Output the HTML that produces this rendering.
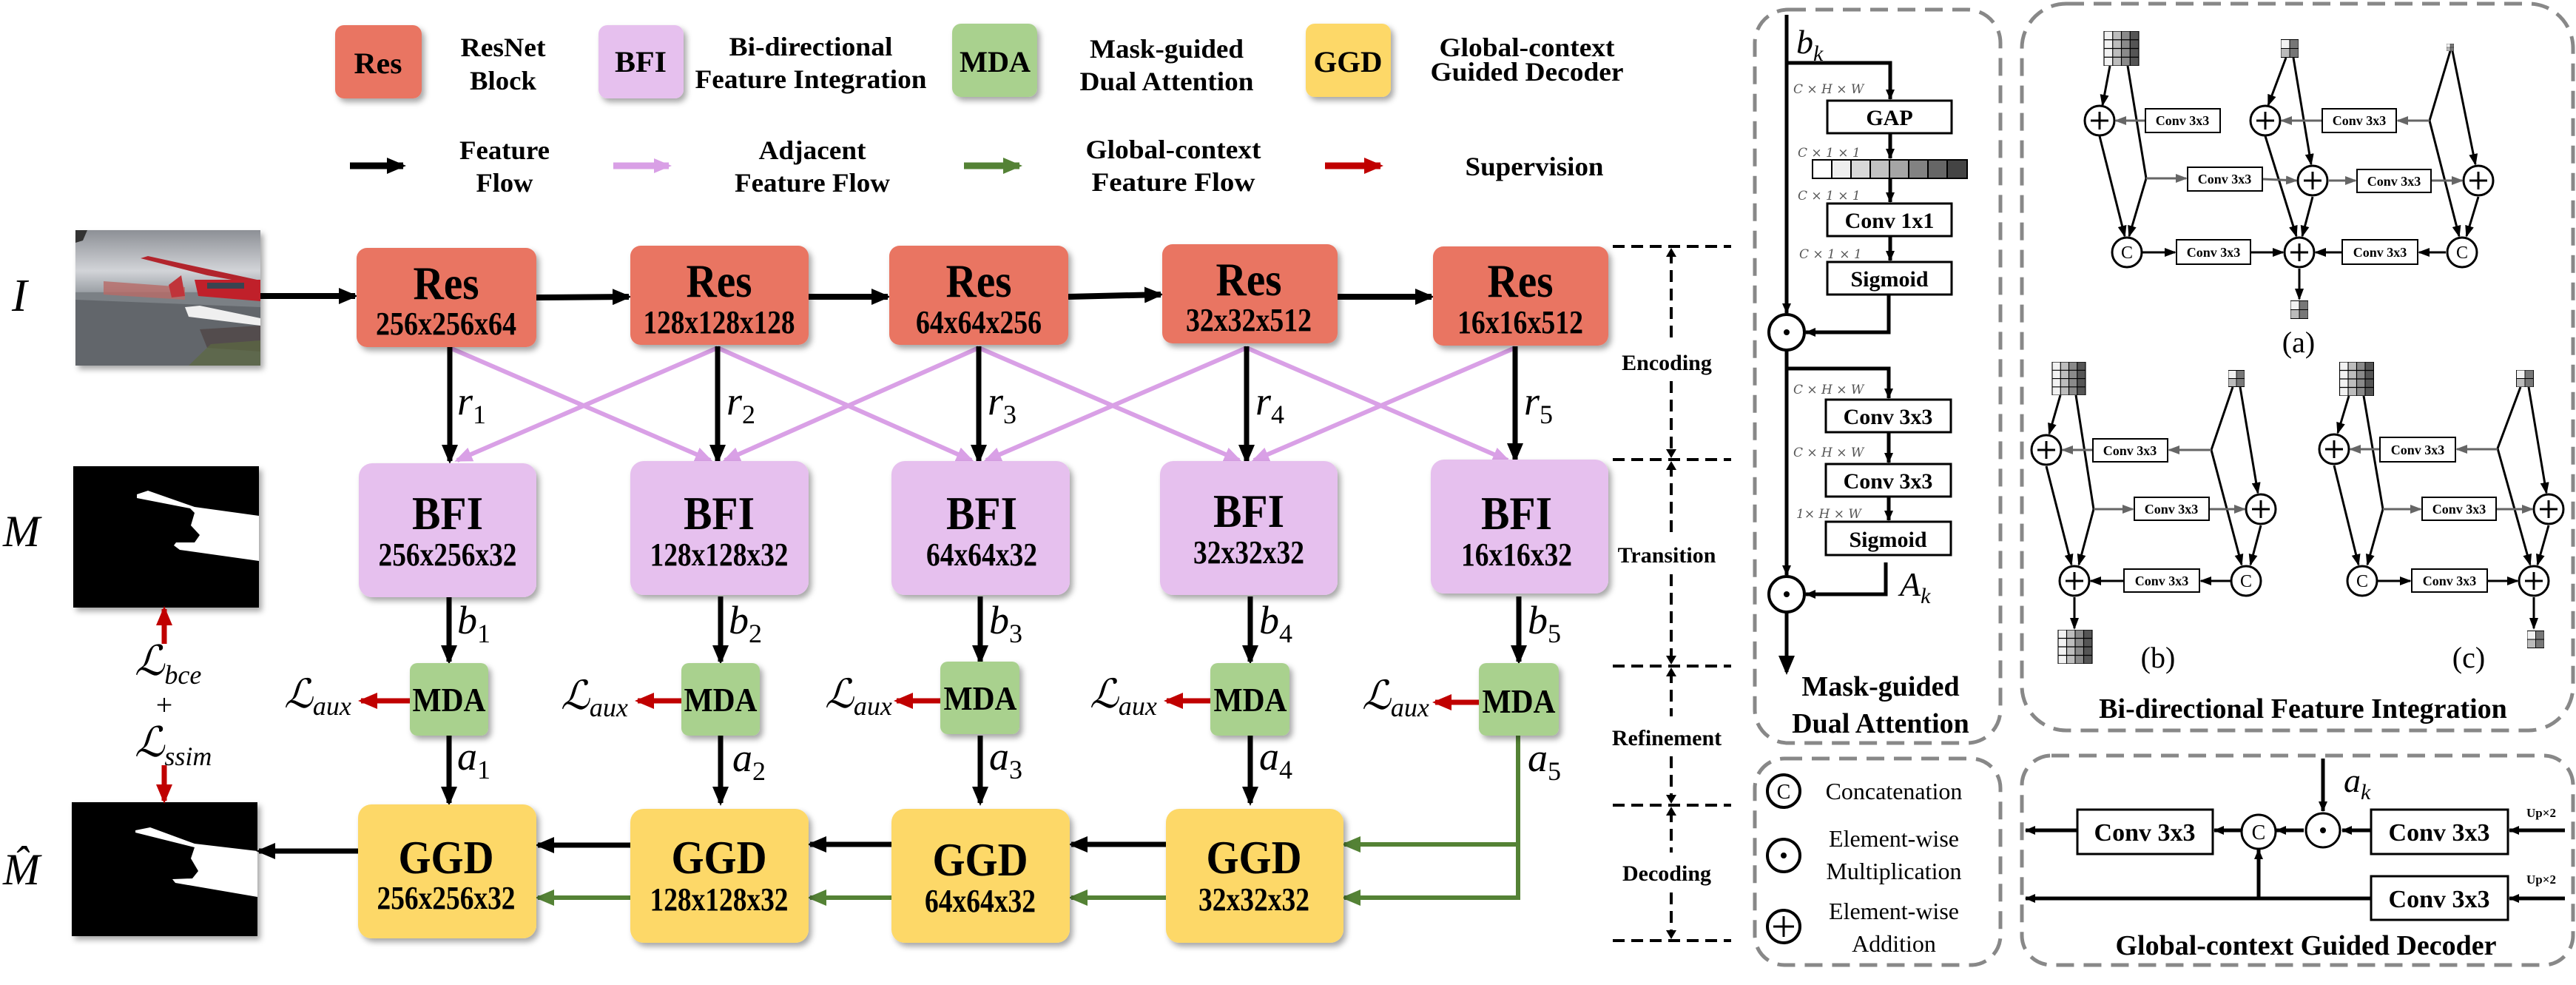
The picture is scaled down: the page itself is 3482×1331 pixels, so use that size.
<!DOCTYPE html>
<html><head><meta charset="utf-8"><style>
html,body{margin:0;padding:0;background:#fff;}
svg{display:block;}
.t{font-family:"Liberation Serif",serif;font-weight:bold;fill:#000;}
.r{font-family:"Liberation Serif",serif;fill:#000;}
.m{font-family:"Liberation Serif","DejaVu Serif",serif;font-style:italic;fill:#000;}
.sc{font-family:"DejaVu Serif","Liberation Serif",serif;fill:#000;}
</style></head><body>
<svg width="3482" height="1331" viewBox="0 0 3482 1331" xmlns="http://www.w3.org/2000/svg">
<defs>
<marker id="ab" markerUnits="userSpaceOnUse" markerWidth="26" markerHeight="22" refX="22" refY="11" orient="auto"><path d="M0,0 L26,11 L0,22 z" fill="#000"/></marker>
<marker id="ap" markerUnits="userSpaceOnUse" markerWidth="24" markerHeight="20" refX="20" refY="10" orient="auto"><path d="M0,0 L24,10 L0,20 z" fill="#d9a0e6"/></marker>
<marker id="ag" markerUnits="userSpaceOnUse" markerWidth="26" markerHeight="22" refX="22" refY="11" orient="auto"><path d="M0,0 L26,11 L0,22 z" fill="#548235"/></marker>
<marker id="ar" markerUnits="userSpaceOnUse" markerWidth="26" markerHeight="22" refX="22" refY="11" orient="auto"><path d="M0,0 L26,11 L0,22 z" fill="#c00000"/></marker>
<marker id="as" markerUnits="userSpaceOnUse" markerWidth="16" markerHeight="12" refX="14" refY="6" orient="auto"><path d="M0,0 L16,6 L0,12 z" fill="#000"/></marker>
<marker id="ay" markerUnits="userSpaceOnUse" markerWidth="16" markerHeight="12" refX="14" refY="6" orient="auto"><path d="M0,0 L16,6 L0,12 z" fill="#666"/></marker>
<marker id="ad" markerUnits="userSpaceOnUse" markerWidth="14" markerHeight="12" refX="13" refY="6" orient="auto"><path d="M0,0 L14,6 L0,12 z" fill="#000"/></marker>
<filter id="sh" x="-10%" y="-10%" width="130%" height="130%"><feDropShadow dx="4" dy="5" stdDeviation="4" flood-color="#000" flood-opacity="0.35"/></filter>
<linearGradient id="sky" x1="0" y1="0" x2="0" y2="1"><stop offset="0" stop-color="#8d9096"/><stop offset="0.3" stop-color="#d2d4d8"/><stop offset="0.45" stop-color="#9ea3a8"/><stop offset="0.5" stop-color="#6e7276"/><stop offset="1" stop-color="#5d6064"/></linearGradient>
<symbol id="g4" viewBox="0 0 4 4"><rect x="0" y="0" width="1" height="4" fill="#f2f2f2"/><rect x="1" y="0" width="1" height="4" fill="#bdbdbd"/><rect x="2" y="0" width="1" height="4" fill="#8a8a8a"/><rect x="3" y="0" width="1" height="4" fill="#555"/><path d="M0,0H4V4H0z M1,0V4 M2,0V4 M3,0V4 M0,1H4 M0,2H4 M0,3H4" fill="none" stroke="#000" stroke-width="0.1"/></symbol>
<symbol id="g2" viewBox="0 0 2 2"><rect x="0" y="0" width="1" height="1" fill="#f2f2f2"/><rect x="1" y="0" width="1" height="2" fill="#777"/><rect x="0" y="1" width="1" height="1" fill="#bbb"/><path d="M0,0H2V2H0z M1,0V2 M0,1H2" fill="none" stroke="#000" stroke-width="0.08"/></symbol>
</defs>

<!-- ===== Legend ===== -->
<g filter="url(#sh)">
<rect x="453" y="34" width="117" height="99" rx="12" fill="#e97562"/>
<rect x="809" y="34" width="115" height="99" rx="12" fill="#e6c0ee"/>
<rect x="1287" y="32" width="115" height="99" rx="12" fill="#a9d18e"/>
<rect x="1765" y="32" width="115" height="99" rx="12" fill="#fdd868"/>
</g>
<text class="t" x="511" y="99" font-size="40" text-anchor="middle" textLength="65" lengthAdjust="spacingAndGlyphs">Res</text>
<text class="t" x="866" y="97" font-size="40" text-anchor="middle" textLength="70" lengthAdjust="spacingAndGlyphs">BFI</text>
<text class="t" x="1345" y="97" font-size="40" text-anchor="middle" textLength="96" lengthAdjust="spacingAndGlyphs">MDA</text>
<text class="t" x="1822" y="97" font-size="40" text-anchor="middle" textLength="93" lengthAdjust="spacingAndGlyphs">GGD</text>
<g class="t" font-size="36" text-anchor="middle">
<text x="680" y="76" textLength="115" lengthAdjust="spacingAndGlyphs">ResNet</text>
<text x="680" y="121" textLength="90" lengthAdjust="spacingAndGlyphs">Block</text>
<text x="1096" y="75" textLength="221" lengthAdjust="spacingAndGlyphs">Bi-directional</text>
<text x="1096" y="119" textLength="313" lengthAdjust="spacingAndGlyphs">Feature Integration</text>
<text x="1577" y="78" textLength="208" lengthAdjust="spacingAndGlyphs">Mask-guided</text>
<text x="1577" y="122" textLength="235" lengthAdjust="spacingAndGlyphs">Dual Attention</text>
<text x="2064" y="76" textLength="237" lengthAdjust="spacingAndGlyphs">Global-context</text>
<text x="2064" y="109" textLength="261" lengthAdjust="spacingAndGlyphs">Guided Decoder</text>
<text x="682" y="215" textLength="122" lengthAdjust="spacingAndGlyphs">Feature</text>
<text x="682" y="259" textLength="77" lengthAdjust="spacingAndGlyphs">Flow</text>
<text x="1098" y="215" textLength="145" lengthAdjust="spacingAndGlyphs">Adjacent</text>
<text x="1098" y="259" textLength="210" lengthAdjust="spacingAndGlyphs">Feature Flow</text>
<text x="1586" y="214" textLength="237" lengthAdjust="spacingAndGlyphs">Global-context</text>
<text x="1586" y="258" textLength="221" lengthAdjust="spacingAndGlyphs">Feature  Flow</text>
<text x="2074" y="237" textLength="187" lengthAdjust="spacingAndGlyphs">Supervision</text>
</g>
<line x1="473" y1="224" x2="545" y2="224" stroke="#000" stroke-width="9" marker-end="url(#ab)"/>
<line x1="829" y1="224" x2="904" y2="224" stroke="#d9a0e6" stroke-width="9" marker-end="url(#ap)"/>
<line x1="1303" y1="224" x2="1378" y2="224" stroke="#548235" stroke-width="9" marker-end="url(#ag)"/>
<line x1="1791" y1="224" x2="1866" y2="224" stroke="#c00000" stroke-width="9" marker-end="url(#ar)"/>

<!-- ===== Images ===== -->
<g filter="url(#sh)">
<rect x="102" y="311" width="250" height="183" fill="url(#sky)"/>
<rect x="99" y="630" width="251" height="191" fill="#000"/>
<rect x="97" y="1084" width="251" height="181" fill="#000"/>
</g>
<!-- photo details -->
<rect x="102" y="395" width="250" height="99" fill="#62666b"/>
<path d="M102,395 L352,395 L352,415 L102,405 Z" fill="#7b8085"/>
<path d="M140,380 L250,388 L250,405 L140,398 Z" fill="#b86a66" opacity="0.8"/>
<path d="M228,385 L245,372 L250,400 L232,402 Z" fill="#c0343a"/>
<path d="M190,349 L200,346 L352,379 L352,385 L280,372 Z" fill="#b2242c"/>
<path d="M263,378 L352,378 L352,407 L268,400 Z" fill="#c0202a"/>
<path d="M280,382 L330,382 L330,390 L280,390 Z" fill="#3a4450"/>
<path d="M250,415 L270,413 L352,430 L352,440 L255,428 Z" fill="#efefef"/>
<path d="M270,445 L352,440 L352,475 L280,470 Z" fill="#4a3a38" opacity="0.6"/>
<path d="M255,494 L285,465 L352,460 L352,494 Z" fill="#5c6a40" opacity="0.7"/>
<path d="M102,311 L118,311 L112,325 L102,328 Z" fill="#333"/>
<!-- masks -->
<path d="M185,668 L200,663 L263,685 L350,697 L350,758 L243,743 L235,737 L238,733 L263,733 L270,723 L258,710 L263,693 L257,687 L185,673 Z" fill="#fff"/>
<path d="M183,1122 L203,1118 L263,1140 L348,1150 L348,1212 L237,1193 L233,1188 L260,1187 L268,1177 L258,1160 L263,1145 L183,1125 Z" fill="#fff"/>
<text class="m" x="16" y="420" font-size="62" font-weight="normal">I</text>
<text class="m" x="4" y="738" font-size="60">M</text>
<text class="m" x="4" y="1195" font-size="60">M̂</text>

<!-- supervision -->
<line x1="222" y1="870" x2="222" y2="823" stroke="#c00000" stroke-width="7" marker-end="url(#ar)"/>
<line x1="222" y1="1034" x2="222" y2="1082" stroke="#c00000" stroke-width="7" marker-end="url(#ar)"/>
<text class="m" x="182" y="912" font-size="56" font-style="normal">ℒ<tspan font-size="36" font-style="italic" dy="12">bce</tspan></text>
<text class="r" x="222" y="966" font-size="40" text-anchor="middle">+</text>
<text class="m" x="182" y="1022" font-size="56" font-style="normal">ℒ<tspan font-size="36" font-style="italic" dy="12">ssim</tspan></text>

<!-- ===== main flow arrows ===== -->
<g stroke="#000" stroke-width="8" fill="none">
<line x1="352" y1="400" x2="480" y2="400" marker-end="url(#ab)"/>
<line x1="725" y1="402" x2="850" y2="401" marker-end="url(#ab)"/>
<line x1="1093" y1="401" x2="1200" y2="401" marker-end="url(#ab)"/>
<line x1="1444" y1="401" x2="1569" y2="398" marker-end="url(#ab)"/>
<line x1="1808" y1="401" x2="1935" y2="401" marker-end="url(#ab)"/>
</g>
<g stroke="#d9a0e6" stroke-width="6" fill="none">
<line x1="608" y1="470" x2="960" y2="622" marker-end="url(#ap)"/>
<line x1="970" y1="470" x2="618" y2="622" marker-end="url(#ap)"/>
<line x1="970" y1="470" x2="1313" y2="622" marker-end="url(#ap)"/>
<line x1="1323" y1="470" x2="980" y2="622" marker-end="url(#ap)"/>
<line x1="1323" y1="470" x2="1675" y2="622" marker-end="url(#ap)"/>
<line x1="1685" y1="470" x2="1333" y2="622" marker-end="url(#ap)"/>
<line x1="1685" y1="470" x2="2038" y2="622" marker-end="url(#ap)"/>
<line x1="2048" y1="470" x2="1695" y2="622" marker-end="url(#ap)"/>
</g>
<g stroke="#000" stroke-width="7" fill="none">
<line x1="608" y1="468" x2="608" y2="623" marker-end="url(#ab)"/>
<line x1="970" y1="468" x2="970" y2="623" marker-end="url(#ab)"/>
<line x1="1323" y1="468" x2="1323" y2="623" marker-end="url(#ab)"/>
<line x1="1685" y1="468" x2="1685" y2="623" marker-end="url(#ab)"/>
<line x1="2048" y1="468" x2="2048" y2="621" marker-end="url(#ab)"/>
<line x1="607" y1="806" x2="607" y2="894" marker-end="url(#ab)"/>
<line x1="974" y1="806" x2="974" y2="894" marker-end="url(#ab)"/>
<line x1="1325" y1="806" x2="1325" y2="894" marker-end="url(#ab)"/>
<line x1="1690" y1="806" x2="1690" y2="894" marker-end="url(#ab)"/>
<line x1="2053" y1="806" x2="2053" y2="894" marker-end="url(#ab)"/>
<line x1="607" y1="994" x2="607" y2="1085" marker-end="url(#ab)"/>
<line x1="974" y1="994" x2="974" y2="1085" marker-end="url(#ab)"/>
<line x1="1325" y1="994" x2="1325" y2="1085" marker-end="url(#ab)"/>
<line x1="1690" y1="994" x2="1690" y2="1085" marker-end="url(#ab)"/>
<line x1="852" y1="1142" x2="727" y2="1142" marker-end="url(#ab)"/>
<line x1="1205" y1="1141" x2="1095" y2="1141" marker-end="url(#ab)"/>
<line x1="1576" y1="1141" x2="1448" y2="1141" marker-end="url(#ab)"/>
<line x1="484" y1="1150" x2="350" y2="1150" marker-end="url(#ab)"/>
</g>
<g stroke="#548235" stroke-width="6" fill="none">
<line x1="852" y1="1213" x2="727" y2="1213" marker-end="url(#ag)"/>
<line x1="1205" y1="1213" x2="1095" y2="1213" marker-end="url(#ag)"/>
<line x1="1576" y1="1213" x2="1448" y2="1213" marker-end="url(#ag)"/>
<polyline points="2052,994 2052,1213 1817,1213" marker-end="url(#ag)"/>
<polyline points="2052,1141 1817,1141" marker-end="url(#ag)"/>
</g>
<g stroke="#c00000" stroke-width="7">
<line x1="554" y1="947" x2="488" y2="947" marker-end="url(#ar)"/>
<line x1="921" y1="947" x2="862" y2="947" marker-end="url(#ar)"/>
<line x1="1271" y1="947" x2="1212" y2="947" marker-end="url(#ar)"/>
<line x1="1636" y1="947" x2="1577" y2="947" marker-end="url(#ar)"/>
<line x1="1999" y1="949" x2="1940" y2="949" marker-end="url(#ar)"/>
</g>

<!-- ===== boxes ===== -->
<g filter="url(#sh)">
<rect x="482" y="335" width="243" height="134" rx="14" fill="#e97562"/>
<rect x="852" y="332" width="241" height="134" rx="14" fill="#e97562"/>
<rect x="1202" y="332" width="242" height="134" rx="14" fill="#e97562"/>
<rect x="1571" y="330" width="237" height="134" rx="14" fill="#e97562"/>
<rect x="1937" y="333" width="237" height="134" rx="14" fill="#e97562"/>
<rect x="485" y="626" width="240" height="181" rx="18" fill="#e6c0ee"/>
<rect x="852" y="623" width="241" height="181" rx="18" fill="#e6c0ee"/>
<rect x="1205" y="623" width="241" height="181" rx="18" fill="#e6c0ee"/>
<rect x="1568" y="623" width="240" height="181" rx="18" fill="#e6c0ee"/>
<rect x="1934" y="621" width="240" height="181" rx="18" fill="#e6c0ee"/>
<rect x="554" y="896" width="106" height="98" rx="10" fill="#a9d18e"/>
<rect x="921" y="896" width="106" height="98" rx="10" fill="#a9d18e"/>
<rect x="1271" y="894" width="107" height="98" rx="10" fill="#a9d18e"/>
<rect x="1636" y="896" width="107" height="98" rx="10" fill="#a9d18e"/>
<rect x="1999" y="896" width="108" height="98" rx="10" fill="#a9d18e"/>
<rect x="484" y="1087" width="241" height="181" rx="18" fill="#fdd868"/>
<rect x="852" y="1093" width="241" height="181" rx="18" fill="#fdd868"/>
<rect x="1205" y="1093" width="241" height="181" rx="18" fill="#fdd868"/>
<rect x="1576" y="1093" width="240" height="181" rx="18" fill="#fdd868"/>
</g>
<g class="t" text-anchor="middle">
<g font-size="64">
<text x="603" y="404" textLength="89" lengthAdjust="spacingAndGlyphs">Res</text>
<text x="972" y="401" textLength="89" lengthAdjust="spacingAndGlyphs">Res</text>
<text x="1323" y="401" textLength="89" lengthAdjust="spacingAndGlyphs">Res</text>
<text x="1688" y="399" textLength="89" lengthAdjust="spacingAndGlyphs">Res</text>
<text x="2055" y="401" textLength="89" lengthAdjust="spacingAndGlyphs">Res</text>
<text x="605" y="715" textLength="96" lengthAdjust="spacingAndGlyphs">BFI</text>
<text x="972" y="715" textLength="96" lengthAdjust="spacingAndGlyphs">BFI</text>
<text x="1327" y="715" textLength="96" lengthAdjust="spacingAndGlyphs">BFI</text>
<text x="1688" y="712" textLength="96" lengthAdjust="spacingAndGlyphs">BFI</text>
<text x="2050" y="715" textLength="96" lengthAdjust="spacingAndGlyphs">BFI</text>
<text x="603" y="1180" textLength="129" lengthAdjust="spacingAndGlyphs">GGD</text>
<text x="972" y="1180" textLength="129" lengthAdjust="spacingAndGlyphs">GGD</text>
<text x="1325" y="1183" textLength="129" lengthAdjust="spacingAndGlyphs">GGD</text>
<text x="1695" y="1180" textLength="129" lengthAdjust="spacingAndGlyphs">GGD</text>
</g>
<g font-size="44">
<text x="603" y="452" textLength="190" lengthAdjust="spacingAndGlyphs">256x256x64</text>
<text x="972" y="450" textLength="205" lengthAdjust="spacingAndGlyphs">128x128x128</text>
<text x="1323" y="450" textLength="170" lengthAdjust="spacingAndGlyphs">64x64x256</text>
<text x="1688" y="447" textLength="170" lengthAdjust="spacingAndGlyphs">32x32x512</text>
<text x="2055" y="450" textLength="170" lengthAdjust="spacingAndGlyphs">16x16x512</text>
<text x="605" y="764" textLength="187" lengthAdjust="spacingAndGlyphs">256x256x32</text>
<text x="972" y="764" textLength="187" lengthAdjust="spacingAndGlyphs">128x128x32</text>
<text x="1327" y="764" textLength="150" lengthAdjust="spacingAndGlyphs">64x64x32</text>
<text x="1688" y="761" textLength="150" lengthAdjust="spacingAndGlyphs">32x32x32</text>
<text x="2050" y="764" textLength="150" lengthAdjust="spacingAndGlyphs">16x16x32</text>
<text x="603" y="1228" textLength="187" lengthAdjust="spacingAndGlyphs">256x256x32</text>
<text x="972" y="1230" textLength="187" lengthAdjust="spacingAndGlyphs">128x128x32</text>
<text x="1325" y="1232" textLength="150" lengthAdjust="spacingAndGlyphs">64x64x32</text>
<text x="1695" y="1230" textLength="150" lengthAdjust="spacingAndGlyphs">32x32x32</text>
</g>
<g font-size="46">
<text x="607" y="961" textLength="99" lengthAdjust="spacingAndGlyphs">MDA</text>
<text x="974" y="961" textLength="99" lengthAdjust="spacingAndGlyphs">MDA</text>
<text x="1325" y="959" textLength="99" lengthAdjust="spacingAndGlyphs">MDA</text>
<text x="1690" y="961" textLength="99" lengthAdjust="spacingAndGlyphs">MDA</text>
<text x="2053" y="963" textLength="99" lengthAdjust="spacingAndGlyphs">MDA</text>
</g>
</g>

<!-- math labels -->
<g class="m" font-size="54">
<text x="618" y="560">r<tspan font-style="normal" font-size="36" dy="12">1</tspan></text>
<text x="982" y="560">r<tspan font-style="normal" font-size="36" dy="12">2</tspan></text>
<text x="1335" y="560">r<tspan font-style="normal" font-size="36" dy="12">3</tspan></text>
<text x="1697" y="560">r<tspan font-style="normal" font-size="36" dy="12">4</tspan></text>
<text x="2060" y="560">r<tspan font-style="normal" font-size="36" dy="12">5</tspan></text>
<text x="618" y="856">b<tspan font-style="normal" font-size="36" dy="12">1</tspan></text>
<text x="985" y="856">b<tspan font-style="normal" font-size="36" dy="12">2</tspan></text>
<text x="1337" y="856">b<tspan font-style="normal" font-size="36" dy="12">3</tspan></text>
<text x="1702" y="856">b<tspan font-style="normal" font-size="36" dy="12">4</tspan></text>
<text x="2065" y="856">b<tspan font-style="normal" font-size="36" dy="12">5</tspan></text>
<text x="618" y="1040">a<tspan font-style="normal" font-size="36" dy="12">1</tspan></text>
<text x="990" y="1042">a<tspan font-style="normal" font-size="36" dy="12">2</tspan></text>
<text x="1337" y="1040">a<tspan font-style="normal" font-size="36" dy="12">3</tspan></text>
<text x="1702" y="1040">a<tspan font-style="normal" font-size="36" dy="12">4</tspan></text>
<text x="2065" y="1042">a<tspan font-style="normal" font-size="36" dy="12">5</tspan></text>
</g>
<g class="m" font-size="54" font-style="normal">
<text x="384" y="956">ℒ<tspan font-style="italic" font-size="36" dy="10">aux</tspan></text>
<text x="758" y="958">ℒ<tspan font-style="italic" font-size="36" dy="10">aux</tspan></text>
<text x="1115" y="956">ℒ<tspan font-style="italic" font-size="36" dy="10">aux</tspan></text>
<text x="1473" y="956">ℒ<tspan font-style="italic" font-size="36" dy="10">aux</tspan></text>
<text x="1841" y="958">ℒ<tspan font-style="italic" font-size="36" dy="10">aux</tspan></text>
</g>

<!-- stage separators -->
<g stroke="#000" stroke-width="4" stroke-dasharray="16 9">
<line x1="2180" y1="333" x2="2340" y2="333"/>
<line x1="2180" y1="621" x2="2340" y2="621"/>
<line x1="2180" y1="900" x2="2340" y2="900"/>
<line x1="2180" y1="1088" x2="2340" y2="1088"/>
<line x1="2180" y1="1271" x2="2340" y2="1271"/>
<line x1="2259" y1="340" x2="2259" y2="460"/><line x1="2259" y1="515" x2="2259" y2="614"/>
<line x1="2259" y1="628" x2="2259" y2="722"/><line x1="2259" y1="776" x2="2259" y2="893"/>
<line x1="2259" y1="907" x2="2259" y2="968"/><line x1="2259" y1="1022" x2="2259" y2="1081"/>
<line x1="2259" y1="1095" x2="2259" y2="1152"/><line x1="2259" y1="1206" x2="2259" y2="1264"/>
</g>
<g fill="#000">
<path d="M2252,347 L2259,335 L2266,347z"/><path d="M2252,607 L2259,619 L2266,607z"/>
<path d="M2252,635 L2259,623 L2266,635z"/><path d="M2252,886 L2259,898 L2266,886z"/>
<path d="M2252,914 L2259,902 L2266,914z"/><path d="M2252,1074 L2259,1086 L2266,1074z"/>
<path d="M2252,1102 L2259,1090 L2266,1102z"/><path d="M2252,1257 L2259,1269 L2266,1257z"/>
</g>
<g class="t" font-size="30" text-anchor="middle">
<text x="2253" y="500">Encoding</text>
<text x="2253" y="760">Transition</text>
<text x="2253" y="1007">Refinement</text>
<text x="2253" y="1190">Decoding</text>
</g>

<!-- ===== panels ===== -->
<g fill="none" stroke="#888" stroke-width="5" stroke-dasharray="24 13">
<rect x="2372" y="13" width="332" height="991" rx="45"/>
<rect x="2372" y="1025" width="332" height="279" rx="40"/>
<rect x="2733" y="5" width="745" height="982" rx="60"/>
<rect x="2733" y="1021" width="745" height="283" rx="40"/>
</g>

<!-- MDA panel -->
<g stroke="#000" stroke-width="5" fill="none">
<line x1="2415" y1="20" x2="2415" y2="423" marker-end="url(#ad)"/>
<polyline points="2415,85 2555,85 2555,134" marker-end="url(#ad)"/>
<line x1="2555" y1="180" x2="2555" y2="214" marker-end="url(#ad)"/>
<line x1="2555" y1="241" x2="2555" y2="273" marker-end="url(#ad)"/>
<line x1="2555" y1="319" x2="2555" y2="352" marker-end="url(#ad)"/>
<polyline points="2553,398 2553,449 2441,449" marker-end="url(#ad)"/>
<line x1="2415" y1="473" x2="2415" y2="777" marker-end="url(#ad)"/>
<polyline points="2415,498 2553,498 2553,538" marker-end="url(#ad)"/>
<line x1="2553" y1="584" x2="2553" y2="625" marker-end="url(#ad)"/>
<line x1="2553" y1="671" x2="2553" y2="703" marker-end="url(#ad)"/>
<polyline points="2549,760 2549,803 2441,803" marker-end="url(#ad)"/>
<line x1="2415" y1="827" x2="2415" y2="908" marker-end="url(#ab)"/>
</g>
<g stroke="#000" stroke-width="3" fill="#fff">
<rect x="2470" y="136" width="168" height="44"/>
<rect x="2470" y="275" width="168" height="44"/>
<rect x="2470" y="354" width="168" height="44"/>
<rect x="2468" y="540" width="169" height="44"/>
<rect x="2468" y="627" width="169" height="44"/>
<rect x="2468" y="705" width="169" height="45"/>
</g>
<g stroke="#000" stroke-width="2">
<rect x="2450" y="216" width="26" height="25" fill="#fff"/><rect x="2476" y="216" width="26" height="25" fill="#eee"/>
<rect x="2502" y="216" width="26" height="25" fill="#d8d8d8"/><rect x="2528" y="216" width="26" height="25" fill="#c2c2c2"/>
<rect x="2554" y="216" width="26" height="25" fill="#a5a5a5"/><rect x="2580" y="216" width="26" height="25" fill="#828282"/>
<rect x="2606" y="216" width="26" height="25" fill="#666"/><rect x="2632" y="216" width="27" height="25" fill="#444"/>
</g>
<g stroke="#000" stroke-width="4" fill="#fff">
<circle cx="2415" cy="449" r="24"/><circle cx="2415" cy="803" r="24"/>
</g>
<circle cx="2415" cy="449" r="4" fill="#000"/><circle cx="2415" cy="803" r="4" fill="#000"/>
<g class="t" font-size="30" text-anchor="middle">
<text x="2554" y="169">GAP</text>
<text x="2554" y="308">Conv 1x1</text>
<text x="2554" y="387">Sigmoid</text>
<text x="2552" y="573">Conv 3x3</text>
<text x="2552" y="660">Conv 3x3</text>
<text x="2552" y="739">Sigmoid</text>
</g>
<g class="sc" font-size="17" fill="#555" font-style="italic">
<text x="2424" y="126" fill="#555">C × H × W</text>
<text x="2430" y="212" fill="#555">C × 1 × 1</text>
<text x="2430" y="270" fill="#555">C × 1 × 1</text>
<text x="2432" y="349" fill="#555">C × 1 × 1</text>
<text x="2424" y="532" fill="#555">C × H × W</text>
<text x="2424" y="617" fill="#555">C × H × W</text>
<text x="2428" y="700" fill="#555">1× H × W</text>
</g>
<text class="m" x="2428" y="72" font-size="46">b<tspan font-size="30" dy="10">k</tspan></text>
<text class="m" x="2568" y="805" font-size="46">A<tspan font-size="30" dy="10">k</tspan></text>
<g class="t" font-size="38" text-anchor="middle">
<text x="2542" y="940">Mask-guided</text>
<text x="2542" y="990">Dual Attention</text>
</g>

<!-- symbol legend -->
<g stroke="#000" stroke-width="4" fill="#fff">
<circle cx="2411" cy="1069" r="22"/><circle cx="2411" cy="1156" r="22"/><circle cx="2411" cy="1252" r="22"/>
</g>
<text class="r" x="2411" y="1079" font-size="28" text-anchor="middle">C</text>
<circle cx="2411" cy="1156" r="4" fill="#000"/>
<path d="M2397,1252 H2425 M2411,1238 V1266" stroke="#000" stroke-width="3"/>
<g class="r" font-size="32" text-anchor="middle">
<text x="2560" y="1080">Concatenation</text>
<text x="2560" y="1144">Element-wise</text>
<text x="2560" y="1188">Multiplication</text>
<text x="2560" y="1242">Element-wise</text>
<text x="2560" y="1286">Addition</text>
</g>

<!-- BFI panel -->
<g stroke="#000" stroke-width="3" fill="none">
<line x1="2852" y1="89" x2="2842" y2="142" marker-end="url(#as)"/>
<polyline points="2876,89 2901,241 2878,319" marker-end="url(#as)"/>
<line x1="2838" y1="184" x2="2872" y2="319" marker-end="url(#as)"/>
<line x1="3090" y1="78" x2="3066" y2="142" marker-end="url(#as)"/>
<line x1="3100" y1="78" x2="3124" y2="222" marker-end="url(#as)"/>
<line x1="3062" y1="184" x2="3104" y2="319" marker-end="url(#as)"/>
<line x1="3126" y1="266" x2="3112" y2="319" marker-end="url(#as)"/>
<polyline points="3312,69 3284,163 3324,319" marker-end="url(#as)"/>
<line x1="3315" y1="69" x2="3346" y2="222" marker-end="url(#as)"/>
<line x1="3350" y1="266" x2="3334" y2="319" marker-end="url(#as)"/>
<line x1="2896" y1="341" x2="2940" y2="341" marker-end="url(#as)"/>
<line x1="3042" y1="341" x2="3086" y2="341" marker-end="url(#as)"/>
<line x1="3306" y1="341" x2="3270" y2="341" marker-end="url(#as)"/>
<line x1="3166" y1="341" x2="3130" y2="341" marker-end="url(#as)"/>
<line x1="3108" y1="363" x2="3108" y2="404" marker-end="url(#as)"/>
<line x1="2785" y1="534" x2="2770" y2="586" marker-end="url(#as)"/>
<polyline points="2806,534 2830,688 2810,763" marker-end="url(#as)"/>
<line x1="2766" y1="630" x2="2800" y2="763" marker-end="url(#as)"/>
<polyline points="3018,523 2989,608 3030,763" marker-end="url(#as)"/>
<line x1="3028" y1="523" x2="3052" y2="666" marker-end="url(#as)"/>
<line x1="3056" y1="710" x2="3042" y2="763" marker-end="url(#as)"/>
<line x1="3016" y1="785" x2="2975" y2="785" marker-end="url(#as)"/>
<line x1="2871" y1="785" x2="2826" y2="785" marker-end="url(#as)"/>
<line x1="2804" y1="807" x2="2804" y2="849" marker-end="url(#as)"/>
<line x1="3175" y1="535" x2="3160" y2="585" marker-end="url(#as)"/>
<polyline points="3195,535 3221,688 3200,763" marker-end="url(#as)"/>
<line x1="3155" y1="629" x2="3188" y2="763" marker-end="url(#as)"/>
<polyline points="3407,523 3376,606 3420,763" marker-end="url(#as)"/>
<line x1="3418" y1="523" x2="3442" y2="666" marker-end="url(#as)"/>
<line x1="3445" y1="710" x2="3430" y2="763" marker-end="url(#as)"/>
<line x1="3213" y1="785" x2="3258" y2="785" marker-end="url(#as)"/>
<line x1="3362" y1="785" x2="3403" y2="785" marker-end="url(#as)"/>
<line x1="3425" y1="807" x2="3425" y2="849" marker-end="url(#as)"/>
</g>
<g stroke="#666" stroke-width="3" fill="none">
<line x1="2900" y1="163" x2="2860" y2="163" marker-end="url(#ay)"/>
<line x1="3139" y1="163" x2="3084" y2="163" marker-end="url(#ay)"/>
<line x1="3284" y1="163" x2="3241" y2="163" marker-end="url(#ay)"/>
<line x1="2901" y1="241" x2="2955" y2="241" marker-end="url(#ay)"/>
<line x1="3058" y1="242" x2="3104" y2="244" marker-end="url(#ay)"/>
<line x1="3148" y1="244" x2="3184" y2="244" marker-end="url(#ay)"/>
<line x1="3286" y1="244" x2="3328" y2="244" marker-end="url(#ay)"/>
<line x1="2989" y1="608" x2="2932" y2="608" marker-end="url(#ay)"/>
<line x1="2829" y1="608" x2="2788" y2="608" marker-end="url(#ay)"/>
<line x1="2830" y1="688" x2="2883" y2="688" marker-end="url(#ay)"/>
<line x1="2986" y1="688" x2="3034" y2="688" marker-end="url(#ay)"/>
<line x1="3376" y1="607" x2="3321" y2="607" marker-end="url(#ay)"/>
<line x1="3217" y1="607" x2="3177" y2="607" marker-end="url(#ay)"/>
<line x1="3221" y1="688" x2="3272" y2="688" marker-end="url(#ay)"/>
<line x1="3374" y1="688" x2="3423" y2="688" marker-end="url(#ay)"/>
</g>
<g stroke="#000" stroke-width="2" fill="#fff">
<rect x="2900" y="147" width="101" height="32"/><rect x="3139" y="147" width="100" height="32"/>
<rect x="2957" y="226" width="101" height="32"/><rect x="3186" y="229" width="100" height="31"/>
<rect x="2942" y="324" width="100" height="33"/><rect x="3166" y="324" width="102" height="33"/>
<rect x="2829" y="593" width="101" height="31"/><rect x="2885" y="672" width="101" height="31"/><rect x="2871" y="769" width="102" height="31"/>
<rect x="3217" y="591" width="102" height="33"/><rect x="3274" y="672" width="100" height="31"/><rect x="3260" y="769" width="102" height="31"/>
</g>
<g class="t" font-size="18" text-anchor="middle">
<text x="2950" y="169">Conv 3x3</text><text x="3189" y="169">Conv 3x3</text>
<text x="3007" y="248">Conv 3x3</text><text x="3236" y="251">Conv 3x3</text>
<text x="2992" y="347">Conv 3x3</text><text x="3217" y="347">Conv 3x3</text>
<text x="2879" y="615">Conv 3x3</text><text x="2935" y="694">Conv 3x3</text><text x="2922" y="791">Conv 3x3</text>
<text x="3268" y="614">Conv 3x3</text><text x="3324" y="694">Conv 3x3</text><text x="3311" y="791">Conv 3x3</text>
</g>
<g stroke="#000" stroke-width="3" fill="#fff">
<circle cx="2838" cy="163" r="20"/><circle cx="3062" cy="163" r="20"/><circle cx="3126" cy="244" r="20"/>
<circle cx="3350" cy="244" r="20"/><circle cx="2875" cy="341" r="20"/><circle cx="3108" cy="341" r="20"/><circle cx="3328" cy="341" r="20"/>
<circle cx="2766" cy="608" r="20"/><circle cx="3056" cy="688" r="20"/><circle cx="3036" cy="785" r="20"/><circle cx="2804" cy="785" r="20"/>
<circle cx="3155" cy="607" r="20"/><circle cx="3445" cy="688" r="20"/><circle cx="3193" cy="785" r="20"/><circle cx="3425" cy="785" r="20"/>
</g>
<g stroke="#000" stroke-width="3">
<path d="M2826,163h24M2838,151v24 M3050,163h24M3062,151v24 M3114,244h24M3126,232v24 M3338,244h24M3350,232v24 M3096,341h24M3108,329v24"/>
<path d="M2754,608h24M2766,596v24 M3044,688h24M3056,676v24 M2792,785h24M2804,773v24"/>
<path d="M3143,607h24M3155,595v24 M3433,688h24M3445,676v24 M3413,785h24M3425,773v24"/>
</g>
<g class="r" font-size="24" text-anchor="middle">
<text x="2875" y="349">C</text><text x="3328" y="349">C</text><text x="3036" y="793">C</text><text x="3193" y="793">C</text>
</g>
<use href="#g4" x="2843" y="42" width="49" height="47"/>
<use href="#g2" x="3083" y="53" width="24" height="25"/>
<use href="#g2" x="3307" y="59" width="10" height="10"/>
<use href="#g2" x="3096" y="406" width="24" height="25"/>
<use href="#g4" x="2773" y="489" width="47" height="45"/>
<use href="#g2" x="3012" y="500" width="22" height="23"/>
<use href="#g4" x="2781" y="851" width="48" height="46"/>
<use href="#g4" x="3162" y="489" width="47" height="46"/>
<use href="#g2" x="3401" y="500" width="24" height="23"/>
<use href="#g2" x="3416" y="851" width="23" height="26"/>
<g class="r" font-size="40" text-anchor="middle">
<text x="3107" y="476">(a)</text><text x="2917" y="902">(b)</text><text x="3337" y="902">(c)</text>
</g>
<text class="t" x="3113" y="970" font-size="38" text-anchor="middle">Bi-directional Feature Integration</text>

<!-- GGD panel -->
<g stroke="#000" stroke-width="5" fill="none">
<line x1="3140" y1="1025" x2="3140" y2="1096" marker-end="url(#ad)"/>
<line x1="3467" y1="1122" x2="3392" y2="1122" marker-end="url(#ad)"/>
<line x1="3205" y1="1122" x2="3166" y2="1122" marker-end="url(#ad)"/>
<line x1="3114" y1="1122" x2="3077" y2="1122" marker-end="url(#ad)"/>
<line x1="3029" y1="1122" x2="2993" y2="1122" marker-end="url(#ad)"/>
<line x1="2808" y1="1122" x2="2738" y2="1122" marker-end="url(#ad)"/>
<line x1="3467" y1="1214" x2="3392" y2="1214" marker-end="url(#ad)"/>
<line x1="3205" y1="1214" x2="2738" y2="1214" marker-end="url(#ad)"/>
<line x1="3053" y1="1214" x2="3053" y2="1148" marker-end="url(#ad)"/>
</g>
<g stroke="#000" stroke-width="3" fill="#fff">
<rect x="3205" y="1094" width="185" height="60"/>
<rect x="2808" y="1094" width="183" height="60"/>
<rect x="3205" y="1184" width="185" height="59"/>
<circle cx="3053" cy="1124" r="23"/><circle cx="3140" cy="1122" r="23"/>
</g>
<circle cx="3140" cy="1122" r="4" fill="#000"/>
<text class="r" x="3053" y="1134" font-size="28" text-anchor="middle">C</text>
<g class="t" font-size="34" text-anchor="middle">
<text x="3297" y="1136">Conv 3x3</text><text x="2899" y="1136">Conv 3x3</text><text x="3297" y="1226">Conv 3x3</text>
</g>
<text class="m" x="3168" y="1070" font-size="46">a<tspan font-size="30" dy="10">k</tspan></text>
<g class="t" font-size="17" text-anchor="middle"><text x="3435" y="1104">Up×2</text><text x="3435" y="1194">Up×2</text></g>
<text class="t" x="3117" y="1290" font-size="38" text-anchor="middle">Global-context Guided Decoder</text>
</svg>
</body></html>
